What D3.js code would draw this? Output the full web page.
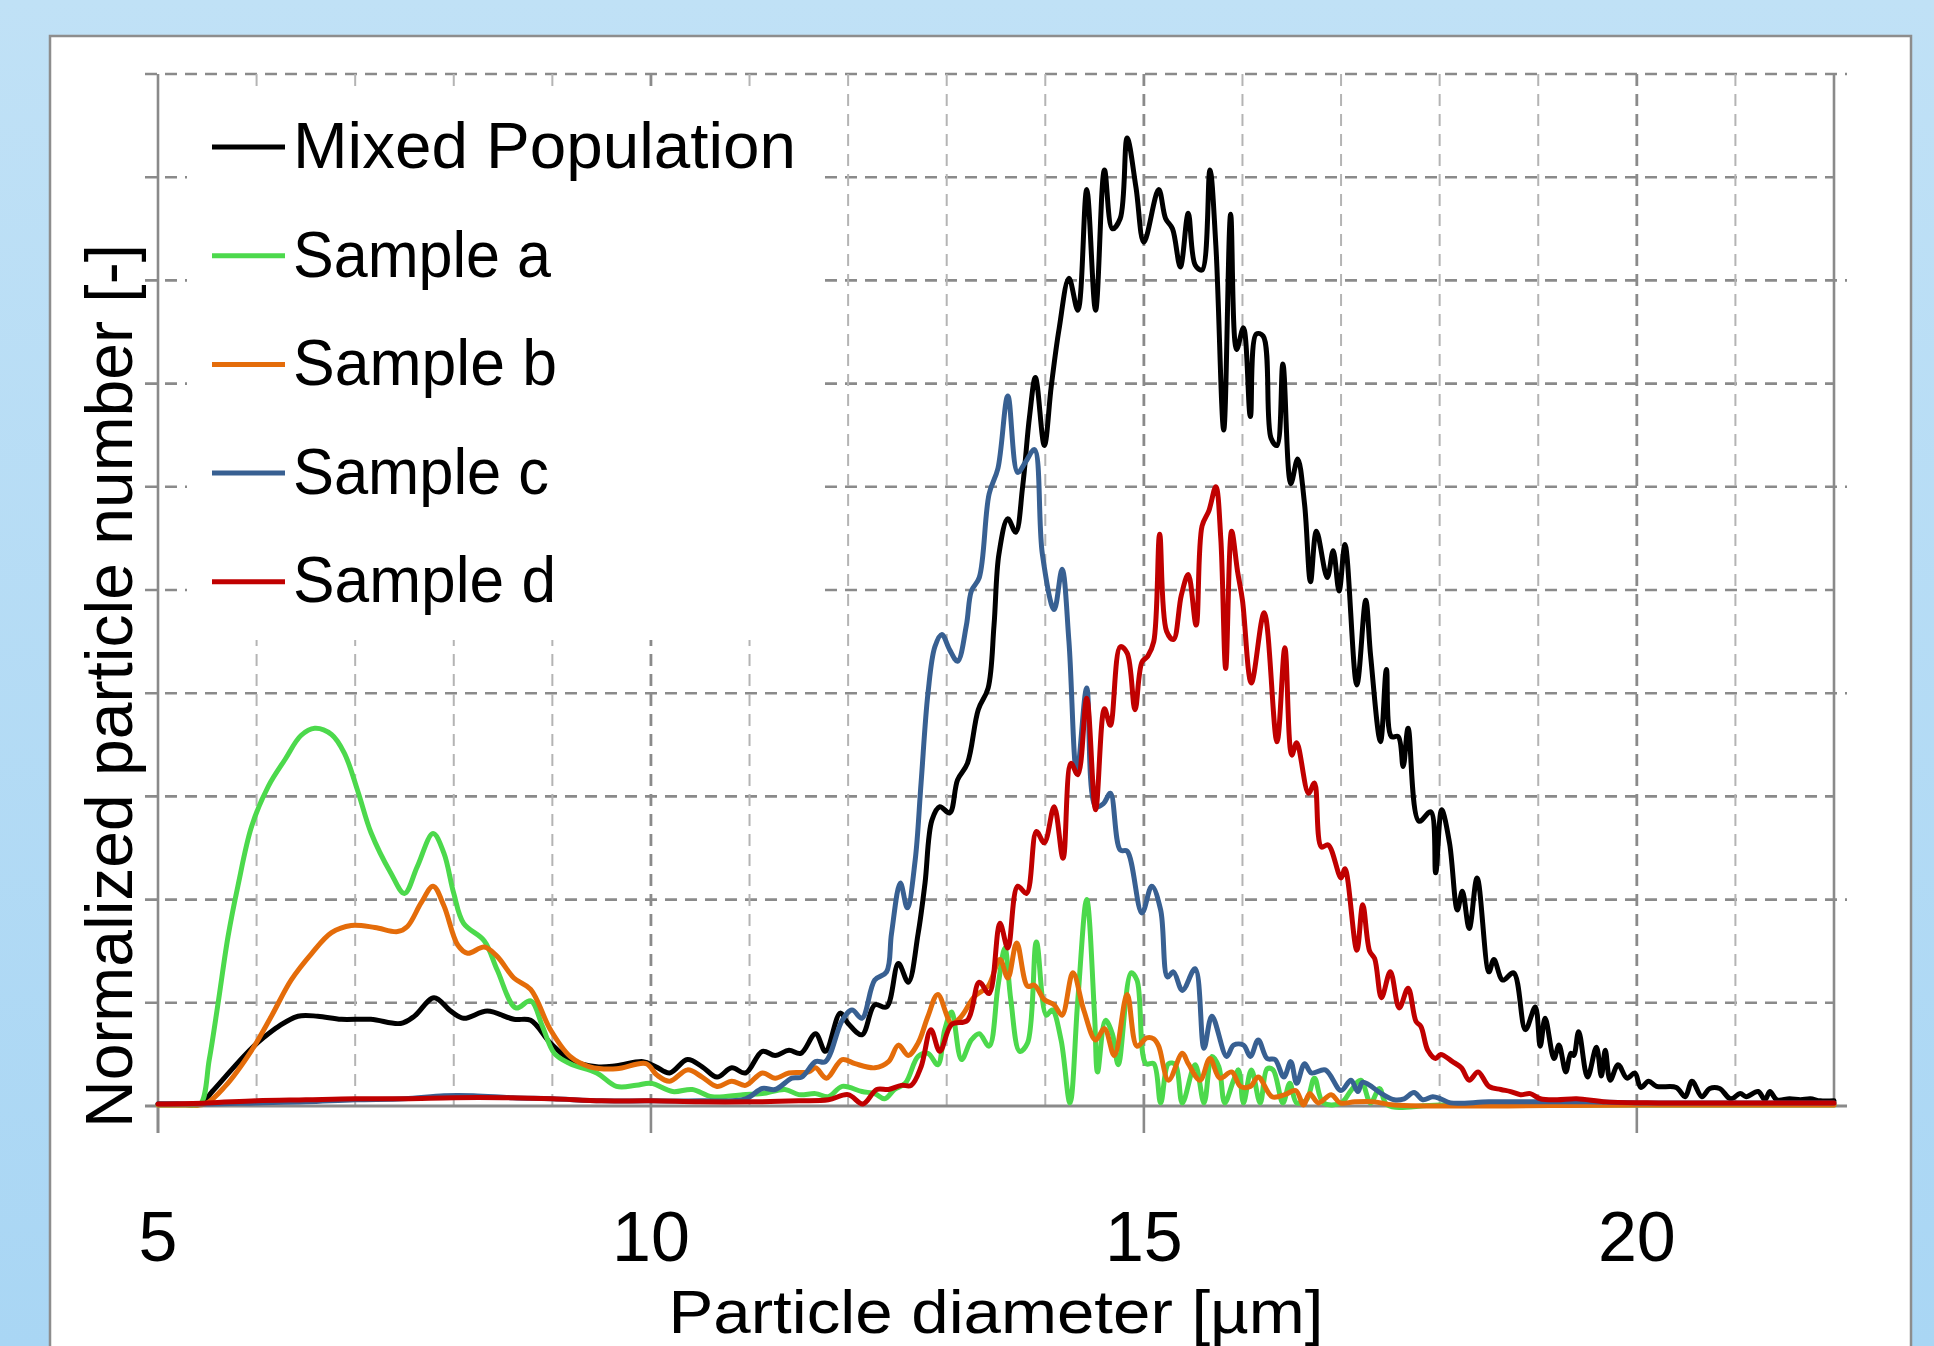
<!DOCTYPE html>
<html><head><meta charset="utf-8">
<script src="https://cdn.jsdelivr.net/npm/d3@7"></script>
<style>html,body{margin:0;padding:0;overflow:hidden;background:#bfe1f6}</style>
</head><body>
<svg id="chart" width="1934" height="1346"></svg>
<script>
// ---------- data (diameter [µm], normalized number) ----------
const seriesNames = ["Mixed Population", "Sample a", "Sample b", "Sample c", "Sample d"];
const xTickValues = [5, 10, 15, 20];
const xTickLabels = ["5", "10", "15", "20"];
const xAxisTitle = "Particle diameter [µm]";
const yAxisTitle = "Normalized particle number [-]";

const mixedPopulation = [[5.0,0.02],[5.2,0.02],[5.43,0.02],[5.55,0.14],[5.68,0.28],[5.82,0.43],[5.95,0.56],[6.08,0.67],[6.22,0.77],[6.42,0.87],[6.62,0.87],[6.86,0.84],[7.16,0.84],[7.46,0.8],[7.6,0.87],[7.8,1.05],[7.97,0.92],[8.1,0.85],[8.34,0.92],[8.61,0.84],[8.78,0.83],[8.98,0.61],[9.18,0.45],[9.45,0.38],[9.65,0.39],[9.92,0.43],[10.05,0.38],[10.19,0.32],[10.37,0.45],[10.52,0.38],[10.67,0.28],[10.82,0.37],[10.96,0.32],[11.13,0.53],[11.26,0.49],[11.4,0.54],[11.52,0.51],[11.67,0.7],[11.77,0.53],[11.92,0.9],[12.0,0.8],[12.14,0.69],[12.27,0.98],[12.39,0.96],[12.51,1.38],[12.61,1.2],[12.71,1.67],[12.78,2.16],[12.85,2.77],[12.93,2.9],[13.03,2.84],[13.11,3.16],[13.21,3.32],[13.32,3.84],[13.42,4.05],[13.48,4.66],[13.53,5.35],[13.62,5.69],[13.7,5.56],[13.77,6.0],[13.84,6.68],[13.9,7.06],[13.99,6.4],[14.06,6.97],[14.14,7.53],[14.24,8.02],[14.33,7.71],[14.42,8.88],[14.51,7.71],[14.6,9.07],[14.68,8.5],[14.76,8.6],[14.83,9.38],[14.92,8.9],[15.0,8.37],[15.15,8.88],[15.22,8.6],[15.29,8.5],[15.37,8.13],[15.45,8.65],[15.52,8.15],[15.59,8.1],[15.67,9.07],[15.73,8.34],[15.81,6.55],[15.88,8.64],[15.94,7.33],[16.01,7.54],[16.08,6.68],[16.14,7.48],[16.21,7.46],[16.29,6.47],[16.35,6.4],[16.41,7.19],[16.49,6.03],[16.56,6.27],[16.63,5.83],[16.69,5.08],[16.75,5.57],[16.86,5.12],[16.92,5.38],[16.98,4.99],[17.04,5.44],[17.16,4.08],[17.25,4.9],[17.3,4.36],[17.4,3.53],[17.46,4.23],[17.51,3.58],[17.58,3.58],[17.63,3.29],[17.68,3.66],[17.79,2.76],[17.91,2.85],[17.96,2.26],[18.02,2.87],[18.1,2.55],[18.18,1.9],[18.23,2.08],[18.3,1.72],[18.38,2.21],[18.5,1.3],[18.55,1.42],[18.64,1.22],[18.75,1.29],[18.87,0.74],[18.97,0.96],[19.02,0.58],[19.07,0.85],[19.16,0.46],[19.21,0.59],[19.28,0.33],[19.33,0.51],[19.36,0.49],[19.41,0.72],[19.5,0.28],[19.59,0.57],[19.64,0.29],[19.68,0.54],[19.73,0.25],[19.81,0.4],[19.9,0.27],[19.98,0.32],[20.04,0.18],[20.12,0.24],[20.2,0.19],[20.4,0.18],[20.49,0.09],[20.56,0.24],[20.66,0.09],[20.74,0.17],[20.84,0.17],[20.95,0.07],[21.05,0.12],[21.11,0.09],[21.23,0.14],[21.3,0.06],[21.35,0.14],[21.42,0.06],[21.55,0.07],[21.66,0.06],[21.76,0.07],[21.86,0.05],[22.0,0.05]];

const sampleA = [[5.0,0.01],[5.3,0.01],[5.43,0.02],[5.52,0.45],[5.61,1.0],[5.71,1.64],[5.81,2.13],[5.95,2.71],[6.12,3.1],[6.29,3.36],[6.45,3.59],[6.59,3.66],[6.76,3.6],[6.89,3.42],[7.03,3.04],[7.16,2.65],[7.36,2.26],[7.5,2.06],[7.63,2.32],[7.79,2.64],[7.9,2.45],[8.0,2.06],[8.1,1.77],[8.31,1.6],[8.44,1.32],[8.63,0.95],[8.78,1.02],[8.9,0.77],[9.02,0.51],[9.18,0.41],[9.45,0.32],[9.65,0.19],[9.85,0.2],[10.0,0.22],[10.22,0.14],[10.42,0.16],[10.62,0.09],[10.93,0.11],[11.13,0.12],[11.36,0.16],[11.5,0.11],[11.67,0.12],[11.8,0.09],[11.94,0.19],[12.14,0.14],[12.27,0.12],[12.37,0.07],[12.47,0.16],[12.58,0.22],[12.71,0.48],[12.81,0.51],[12.91,0.4],[12.98,0.74],[13.05,0.91],[13.15,0.45],[13.25,0.64],[13.33,0.7],[13.43,0.58],[13.52,1.16],[13.59,1.53],[13.65,1.03],[13.74,0.53],[13.82,0.61],[13.91,1.59],[14.01,0.88],[14.07,0.93],[14.16,0.64],[14.25,0.03],[14.33,1.03],[14.42,2.0],[14.5,0.87],[14.53,0.33],[14.61,0.83],[14.68,0.7],[14.74,0.4],[14.87,1.29],[14.93,1.22],[15.02,0.41],[15.1,0.41],[15.17,0.03],[15.25,0.41],[15.32,0.4],[15.39,0.03],[15.52,0.4],[15.61,0.03],[15.69,0.48],[15.76,0.38],[15.82,0.03],[15.91,0.25],[15.96,0.35],[16.01,0.03],[16.09,0.35],[16.18,0.03],[16.25,0.36],[16.31,0.35],[16.41,0.03],[16.48,0.22],[16.55,0.03],[16.65,0.06],[16.73,0.27],[16.82,0.03],[17.0,0.03],[17.1,0.15],[17.2,0.25],[17.3,0.03],[17.39,0.17],[17.47,0.01],[18.0,0.01],[20.0,0.01],[22.0,0.01]];

const sampleB = [[5.0,0.01],[5.3,0.01],[5.48,0.02],[5.68,0.19],[5.95,0.54],[6.15,0.87],[6.35,1.22],[6.56,1.48],[6.76,1.68],[6.96,1.75],[7.2,1.73],[7.43,1.69],[7.53,1.74],[7.67,1.97],[7.79,2.13],[7.9,1.94],[8.04,1.56],[8.14,1.48],[8.31,1.54],[8.44,1.45],[8.61,1.24],[8.78,1.13],[8.98,0.74],[9.18,0.48],[9.38,0.38],[9.65,0.36],[9.95,0.41],[10.06,0.3],[10.19,0.24],[10.37,0.35],[10.52,0.28],[10.67,0.19],[10.82,0.24],[10.96,0.2],[11.13,0.32],[11.26,0.27],[11.4,0.32],[11.6,0.33],[11.67,0.37],[11.78,0.27],[11.94,0.45],[12.07,0.41],[12.27,0.37],[12.41,0.43],[12.51,0.59],[12.61,0.49],[12.71,0.61],[12.81,0.87],[12.91,1.08],[13.05,0.8],[13.15,0.87],[13.28,1.06],[13.42,1.16],[13.54,1.42],[13.62,1.24],[13.71,1.58],[13.82,1.16],[13.89,1.17],[13.99,1.03],[14.09,0.98],[14.17,0.88],[14.28,1.29],[14.39,0.93],[14.51,0.64],[14.6,0.75],[14.7,0.49],[14.83,1.08],[14.93,0.58],[15.03,0.66],[15.1,0.65],[15.15,0.58],[15.25,0.25],[15.39,0.51],[15.45,0.41],[15.57,0.25],[15.67,0.46],[15.77,0.27],[15.89,0.33],[15.98,0.19],[16.08,0.19],[16.16,0.28],[16.3,0.09],[16.43,0.11],[16.54,0.15],[16.62,0.01],[16.68,0.12],[16.77,0.03],[16.9,0.11],[16.99,0.03],[17.14,0.04],[17.34,0.04],[17.54,0.01],[20.0,0.01],[22.0,0.01]];

const sampleC = [[5.0,0.02],[5.5,0.02],[6.0,0.03],[6.5,0.04],[7.0,0.06],[7.5,0.07],[7.9,0.1],[8.2,0.1],[8.6,0.08],[9.0,0.07],[9.5,0.05],[10.0,0.05],[10.5,0.05],[10.96,0.07],[11.13,0.17],[11.26,0.16],[11.43,0.27],[11.53,0.28],[11.67,0.43],[11.77,0.43],[11.94,0.83],[12.04,0.93],[12.14,0.85],[12.27,1.22],[12.39,1.3],[12.44,1.67],[12.53,2.16],[12.6,1.92],[12.68,2.38],[12.74,3.13],[12.81,4.0],[12.88,4.45],[12.95,4.57],[13.03,4.42],[13.11,4.31],[13.2,4.66],[13.25,4.99],[13.33,5.12],[13.43,5.93],[13.52,6.18],[13.62,6.88],[13.72,6.14],[13.8,6.24],[13.89,6.36],[13.97,5.35],[14.09,4.81],[14.17,5.2],[14.24,4.5],[14.32,3.22],[14.42,4.05],[14.51,2.9],[14.59,2.93],[14.66,3.03],[14.76,2.48],[14.83,2.47],[14.98,1.87],[15.08,2.13],[15.17,1.9],[15.24,1.25],[15.3,1.3],[15.39,1.12],[15.52,1.33],[15.61,0.56],[15.69,0.87],[15.84,0.48],[15.91,0.59],[16.01,0.59],[16.08,0.48],[16.16,0.64],[16.25,0.46],[16.33,0.45],[16.42,0.28],[16.49,0.43],[16.55,0.22],[16.63,0.41],[16.7,0.32],[16.84,0.35],[17.0,0.15],[17.1,0.25],[17.17,0.14],[17.22,0.23],[17.41,0.12],[17.54,0.06],[17.64,0.07],[17.74,0.13],[17.83,0.06],[17.93,0.09],[18.01,0.07],[18.11,0.03],[18.5,0.04],[19.0,0.04],[19.5,0.04],[20.0,0.03],[21.0,0.03],[22.0,0.03]];

const sampleD = [[5.0,0.02],[5.5,0.03],[6.0,0.05],[6.5,0.06],[7.0,0.07],[7.5,0.07],[8.0,0.08],[8.5,0.08],[9.0,0.07],[9.5,0.05],[10.0,0.05],[10.5,0.04],[11.0,0.04],[11.5,0.05],[11.8,0.06],[12.0,0.11],[12.15,0.02],[12.29,0.16],[12.41,0.16],[12.54,0.2],[12.64,0.2],[12.74,0.38],[12.84,0.74],[12.93,0.53],[13.05,0.79],[13.21,0.83],[13.33,1.2],[13.43,1.09],[13.54,1.77],[13.62,1.53],[13.72,2.13],[13.81,2.06],[13.91,2.66],[13.99,2.55],[14.09,2.9],[14.18,2.4],[14.26,3.32],[14.33,3.21],[14.42,3.95],[14.51,2.87],[14.6,3.85],[14.66,3.69],[14.76,4.45],[14.83,4.39],[14.91,3.84],[14.98,4.3],[15.04,4.36],[15.1,4.5],[15.16,5.54],[15.23,4.6],[15.3,4.52],[15.38,4.95],[15.45,5.15],[15.53,4.66],[15.59,5.62],[15.66,5.77],[15.73,6.0],[15.78,5.5],[15.83,4.24],[15.89,5.57],[15.95,5.18],[16.0,4.9],[16.09,4.1],[16.22,4.78],[16.35,3.53],[16.43,4.44],[16.5,3.4],[16.55,3.52],[16.67,3.03],[16.73,3.13],[16.8,2.51],[16.87,2.53],[17.0,2.21],[17.04,2.3],[17.16,1.51],[17.22,1.95],[17.29,1.5],[17.34,1.43],[17.41,1.05],[17.5,1.3],[17.59,0.95],[17.68,1.14],[17.76,0.82],[17.81,0.77],[17.88,0.54],[17.96,0.46],[18.01,0.5],[18.13,0.43],[18.22,0.37],[18.3,0.25],[18.39,0.33],[18.5,0.19],[18.62,0.16],[18.72,0.14],[18.82,0.11],[18.92,0.12],[19.02,0.07],[19.19,0.06],[19.39,0.07],[19.69,0.04],[20.22,0.03],[21.0,0.03],[22.0,0.03]];

const seriesData = [mixedPopulation, sampleA, sampleB, sampleC, sampleD];
const seriesColors = ["#000000", "#4cd94c", "#e46c0a", "#386092", "#c00000"];
const legendTextWidths = [503, 258, 264, 256, 263];

// ---------- drawing ----------
const svg = d3.select("#chart");
const FONT = "'Liberation Sans', Arial, sans-serif";

const defs = svg.append("defs");
const grad = defs.append("linearGradient").attr("id", "bg").attr("x1", 0).attr("y1", 0).attr("x2", 0).attr("y2", 1);
grad.append("stop").attr("offset", "0%").attr("stop-color", "#c0e1f6");
grad.append("stop").attr("offset", "100%").attr("stop-color", "#a9d6f4");
svg.append("rect").attr("width", 1934).attr("height", 1346).attr("fill", "url(#bg)");

svg.append("rect").attr("x", 50).attr("y", 36).attr("width", 1861).attr("height", 1340)
  .attr("fill", "#ffffff").attr("stroke", "#8d8d8d").attr("stroke-width", 2.5);

const x = d3.scaleLinear().domain([5, 22]).range([158, 1834]);
const y = d3.scaleLinear().domain([0, 10]).range([1106, 74]);

// horizontal gridlines (with left ticks, right ticks at even values)
svg.append("g").selectAll("line").data(y.ticks(10).filter(t => t > 0)).join("line")
  .attr("x1", 145).attr("x2", t => t % 2 === 0 ? 1847 : 1834)
  .attr("y1", t => y(t)).attr("y2", t => y(t))
  .attr("stroke", "#8a8a8a").attr("stroke-width", 2.6).attr("stroke-dasharray", "12,8");

// vertical gridlines
svg.append("g").selectAll("line").data(d3.range(6, 22)).join("line")
  .attr("x1", d => x(d)).attr("x2", d => x(d)).attr("y1", 74).attr("y2", 1106)
  .attr("stroke", d => d % 5 === 0 ? "#8a8a8a" : "#b4b4b4")
  .attr("stroke-width", d => d % 5 === 0 ? 2.8 : 2)
  .attr("stroke-dasharray", "12,8");

// axes lines
svg.append("line").attr("x1", x(5)).attr("x2", x(5)).attr("y1", 74).attr("y2", 1133)
  .attr("stroke", "#8a8a8a").attr("stroke-width", 2.6);
svg.append("line").attr("x1", x(22)).attr("x2", x(22)).attr("y1", 74).attr("y2", 1106)
  .attr("stroke", "#8a8a8a").attr("stroke-width", 2.6);
svg.append("line").attr("x1", 145).attr("x2", 1847).attr("y1", y(0)).attr("y2", y(0))
  .attr("stroke", "#8a8a8a").attr("stroke-width", 3);
svg.append("g").selectAll("line").data(xTickValues).join("line")
  .attr("x1", d => x(d)).attr("x2", d => x(d)).attr("y1", y(0)).attr("y2", 1133)
  .attr("stroke", "#8a8a8a").attr("stroke-width", 2.6);

// tick labels
svg.append("g").selectAll("text").data(xTickValues).join("text")
  .attr("x", d => x(d)).attr("y", 1261).attr("text-anchor", "middle")
  .attr("font-family", FONT).attr("font-size", 70).attr("fill", "#000")
  .text((d, i) => xTickLabels[i]);

// axis titles
svg.append("text").attr("x", (x(5) + x(22)) / 2).attr("y", 1333).attr("text-anchor", "middle")
  .attr("font-family", FONT).attr("font-size", 62).attr("fill", "#000")
  .attr("textLength", 655).attr("lengthAdjust", "spacingAndGlyphs").text(xAxisTitle);
svg.append("text").attr("transform", "translate(132,686) rotate(-90)").attr("text-anchor", "middle")
  .attr("font-family", FONT).attr("font-size", 66).attr("fill", "#000").text(yAxisTitle);

// legend box (white background hides gridlines)
svg.append("rect").attr("x", 187).attr("y", 92).attr("width", 634).attr("height", 548).attr("fill", "#ffffff");
const leg = svg.append("g");
seriesNames.forEach((name, i) => {
  leg.append("line").attr("x1", 212).attr("x2", 285)
    .attr("y1", 147 + i * 108.7).attr("y2", 147 + i * 108.7)
    .attr("stroke", seriesColors[i]).attr("stroke-width", 5);
  leg.append("text").attr("x", 293).attr("y", 168 + i * 108.5)
    .attr("font-family", FONT).attr("font-size", 64).attr("fill", "#000")
    .attr("textLength", legendTextWidths[i]).attr("lengthAdjust", "spacingAndGlyphs")
    .text(name);
});

// series lines
const line = d3.line().x(d => x(d[0])).y(d => y(d[1])).curve(d3.curveCatmullRom.alpha(0.5));
svg.append("g").selectAll("path").data(seriesData).join("path")
  .attr("d", d => line(d)).attr("fill", "none")
  .attr("stroke", (d, i) => seriesColors[i]).attr("stroke-width", 5)
  .attr("stroke-linejoin", "round").attr("stroke-linecap", "round");
</script>
</body></html>
